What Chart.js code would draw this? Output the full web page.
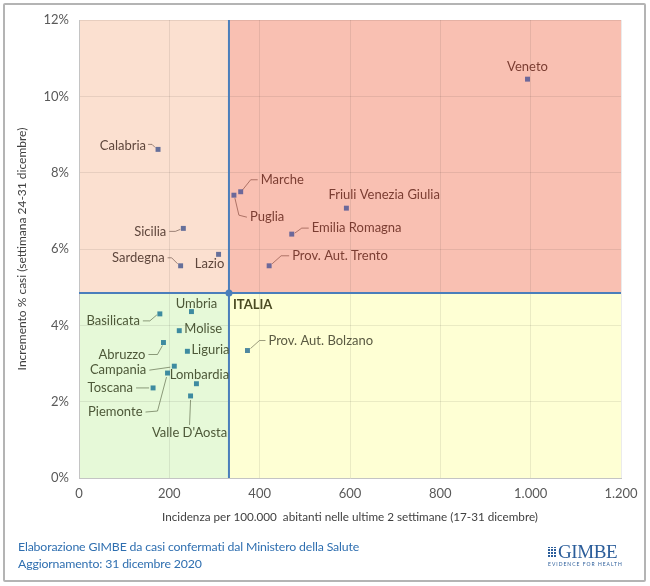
<!DOCTYPE html>
<html>
<head>
<meta charset="utf-8">
<script src="https://cdn.jsdelivr.net/npm/chart.js@4.4.0/dist/chart.umd.min.js"></script>
<style>
  body { margin: 0; background: #fff; }
  #wrap { position: relative; width: 650px; height: 586px; font-family: Lato, sans-serif; }
  #frame { position: absolute; left: 3px; top: 3px; width: 639px; height: 575px; border: 2px solid #b4b4b4; border-radius: 2px; }
  #chart { position: absolute; left: 0; top: 0; }
  .note { position: absolute; left: 18px; color: #2f6fb0; font-size: 12.3px; letter-spacing: -0.15px; }
  #logo { position: absolute; left: 548px; top: 543px; width: 74px; }
  #logo .icon { position: absolute; left: 0; top: 4px; width: 9px; height: 10px;
    background: linear-gradient(0deg, transparent 0 1px, #fff 1px 2px, transparent 2px) 0 0 / 3px 3px,
                linear-gradient(90deg, transparent 0 2px, #fff 2px 3px) 0 0 / 3px 3px, #2b5d9a; }
  #logo .name { position: absolute; left: 10px; top: -2px; font-family: "Liberation Serif", serif; font-size: 19px; color: #2b5d9a; letter-spacing: -0.4px; }
  #logo .tag { position: absolute; left: 0; top: 18px; font-size: 5px; letter-spacing: 1px; color: #2b5d9a; white-space: nowrap; }
</style>
</head>
<body>
<div id="wrap">
  <canvas id="chart" width="650" height="586"></canvas>
  <div id="frame"></div>
  <div class="note" style="top:539px">Elaborazione GIMBE da casi confermati dal Ministero della Salute</div>
  <div class="note" style="top:556px">Aggiornamento: 31 dicembre 2020</div>
  <div id="logo"><div class="icon"></div><div class="name">GIMBE</div><div class="tag">EVIDENCE FOR HEALTH</div></div>
</div>
<script>
// dati regionali
const regioni = ["Veneto", "Calabria", "Marche", "Puglia", "Friuli Venezia Giulia", "Sicilia", "Emilia Romagna",
    "Lazio", "Sardegna", "Prov. Aut. Trento", "Umbria", "Basilicata", "Molise", "Abruzzo", "Prov. Aut. Bolzano",
    "Liguria", "Campania", "Piemonte", "Lombardia", "Toscana", "Valle D'Aosta"];
const incidenza = [993, 175, 358, 343, 592, 231, 471, 309, 225, 421, 249, 179, 222, 187, 373, 240, 211, 196, 260, 164, 247];
const incremento = [10.45, 8.61, 7.50, 7.41, 7.07, 6.54, 6.39, 5.86, 5.56, 5.56, 4.36, 4.30, 3.86, 3.55, 3.34, 3.32, 2.93, 2.75, 2.47, 2.36, 2.15];
const italiaIncidenza = 332;
const italiaIncremento = 4.85;
const xTicks = [0, 200, 400, 600, 800, 1000, 1200];
const yTicks = [0, 2, 4, 6, 8, 10, 12];

// posizione etichette (pixel rispetto al punto)
const labelPos = {
    "Veneto": { dx: 0, dy: -12, align: "center" },
    "Calabria": { dx: -12, dy: -4, align: "right", leader: [[-3, -2], [-6, -5], [-10, -5]] },
    "Marche": { dx: 20, dy: -12, align: "left", leader: [[2, -2], [10, -12], [17, -12]] },
    "Puglia": { dx: 16, dy: 22, align: "left", leader: [[1, 3], [5, 20], [13, 22]] },
    "Friuli Venezia Giulia": { dx: -18, dy: -13, align: "left" },
    "Sicilia": { dx: -17, dy: 3, align: "right", leader: [[-3, 1], [-8, 3], [-14, 3]] },
    "Emilia Romagna": { dx: 20, dy: -6, align: "left", leader: [[3, -1], [10, -6], [17, -6]] },
    "Lazio": { dx: -9, dy: 9, align: "center" },
    "Sardegna": { dx: -16, dy: -8, align: "right", leader: [[-3, -2], [-9, -8], [-13, -8]] },
    "Prov. Aut. Trento": { dx: 23, dy: -10, align: "left", leader: [[3, -2], [12, -10], [20, -10]] },
    "Umbria": { dx: 5, dy: -8, align: "center" },
    "Basilicata": { dx: -20, dy: 7, align: "right", leader: [[-3, 1], [-10, 7], [-17, 7]] },
    "Molise": { dx: 5, dy: -2, align: "left" },
    "Abruzzo": { dx: -18, dy: 12, align: "right", leader: [[-1, 3], [-6, 12], [-15, 12]] },
    "Prov. Aut. Bolzano": { dx: 21, dy: -10, align: "left", leader: [[3, -2], [12, -10], [18, -10]] },
    "Liguria": { dx: 4, dy: -1, align: "left" },
    "Campania": { dx: -28, dy: 4, align: "right", leader: [[-4, 1], [-25, 4]] },
    "Piemonte": { dx: -25, dy: 39, align: "right", leader: [[-1, 4], [-10, 38], [-22, 39]] },
    "Lombardia": { dx: 3, dy: -9, align: "center" },
    "Toscana": { dx: -20, dy: 0, align: "right", leader: [[-4, 0], [-17, 0]] },
    "Valle D'Aosta": { dx: -1, dy: 37, align: "center", leader: [[0, 4], [-1, 29]] }
};

// colori per quadrante
function quadrante(x, y) {
    if (y >= italiaIncremento) return x >= italiaIncidenza ? "rosso" : "pesca";
    return x >= italiaIncidenza ? "giallo" : "verde";
}
const fondo = { pesca: "#fbe0d0", rosso: "#f9c0b2", verde: "#e6f9d8", giallo: "#feffd4" };
const colPunto = { pesca: "#66709a", rosso: "#6c689a", verde: "#3e8ba0", giallo: "#4f88a0" };
const colTesto = { pesca: "#5e463c", rosso: "#7b3d32", verde: "#4d5838", giallo: "#5a5a42" };

function fmtMigliaia(v) {
    return String(v).replace(/\B(?=(\d{3})+(?!\d))/g, ".");
}

const quadrantiPlugin = {
    id: "quadranti",
    beforeDraw(chart) {
        const { ctx, chartArea: a, scales: { x, y } } = chart;
        const cx = x.getPixelForValue(italiaIncidenza);
        const cy = y.getPixelForValue(italiaIncremento);
        ctx.save();
        ctx.fillStyle = fondo.pesca; ctx.fillRect(a.left, a.top, cx - a.left, cy - a.top);
        ctx.fillStyle = fondo.rosso; ctx.fillRect(cx, a.top, a.right - cx, cy - a.top);
        ctx.fillStyle = fondo.verde; ctx.fillRect(a.left, cy, cx - a.left, a.bottom - cy);
        ctx.fillStyle = fondo.giallo; ctx.fillRect(cx, cy, a.right - cx, a.bottom - cy);
        ctx.restore();
    },
    beforeDatasetsDraw(chart) {
        const { ctx, chartArea: a, scales: { x, y } } = chart;
        const cx = x.getPixelForValue(italiaIncidenza);
        const cy = y.getPixelForValue(italiaIncremento);
        ctx.save();
        ctx.strokeStyle = "#4a7ebb";
        ctx.lineWidth = 2;
        ctx.beginPath();
        ctx.moveTo(cx, a.top); ctx.lineTo(cx, a.bottom);
        ctx.moveTo(a.left, cy); ctx.lineTo(a.right, cy);
        ctx.stroke();
        ctx.restore();
    },
    afterDatasetsDraw(chart) {
        const { ctx, scales: { x, y } } = chart;
        ctx.save();
        ctx.font = "13px Lato";
        ctx.textBaseline = "middle";
        regioni.forEach((nome, i) => {
            const px = x.getPixelForValue(incidenza[i]);
            const py = y.getPixelForValue(incremento[i]);
            const p = labelPos[nome];
            const q = quadrante(incidenza[i], incremento[i]);
            if (p.leader) {
                ctx.strokeStyle = colTesto[q];
                ctx.globalAlpha = 0.6;
                ctx.lineWidth = 1;
                ctx.beginPath();
                p.leader.forEach((pt, k) => k === 0 ? ctx.moveTo(px + pt[0], py + pt[1]) : ctx.lineTo(px + pt[0], py + pt[1]));
                ctx.stroke();
                ctx.globalAlpha = 1;
            }
            ctx.fillStyle = colTesto[q];
            ctx.textAlign = p.align;
            ctx.fillText(nome, px + p.dx, py + p.dy);
        });
        // Italia
        const ix = x.getPixelForValue(italiaIncidenza);
        const iy = y.getPixelForValue(italiaIncremento);
        ctx.font = "bold 13px Lato";
        ctx.fillStyle = "#4a4a22";
        ctx.textAlign = "left";
        ctx.fillText("ITALIA", ix + 4, iy + 12);
        ctx.restore();
    }
};

new Chart(document.getElementById("chart"), {
    type: "scatter",
    data: {
        datasets: [{
            data: regioni.map((r, i) => ({ x: incidenza[i], y: incremento[i] })),
            pointStyle: "rect",
            pointRadius: 3.5,
            pointBorderWidth: 0,
            pointBackgroundColor: c => colPunto[quadrante(c.raw.x, c.raw.y)]
        }, {
            data: [{ x: italiaIncidenza, y: italiaIncremento }],
            pointStyle: "circle",
            pointRadius: 3.5,
            pointBorderWidth: 0,
            pointBackgroundColor: "#4a7ebb"
        }]
    },
    options: {
        responsive: false,
        animation: false,
        layout: { padding: { left: 14, right: 29, top: 20, bottom: 58 } },
        plugins: { legend: { display: false }, tooltip: { enabled: false } },
        scales: {
            x: {
                type: "linear",
                min: 0, max: 1200,
                afterFit: s => { s.height = 50; },
                afterBuildTicks: s => { s.ticks = xTicks.map(v => ({ value: v })); },
                grid: { color: "rgba(0,0,0,0.08)", drawTicks: false },
                border: { color: "#c4c4c4" },
                ticks: { padding: 8, color: "#595959", font: { family: "Lato", size: 13 }, callback: v => fmtMigliaia(v) },
                title: {
                    display: true,
                    text: "Incidenza per 100.000  abitanti nelle ultime 2 settimane (17-31 dicembre)",
                    color: "#404040",
                    font: { family: "Lato", size: 11.7 },
                    padding: { top: 0, bottom: 4 }
                }
            },
            y: {
                type: "linear",
                min: 0, max: 12,
                afterFit: s => { s.width = 65; },
                afterBuildTicks: s => { s.ticks = yTicks.map(v => ({ value: v })); },
                grid: { color: "rgba(0,0,0,0.08)", drawTicks: false },
                border: { color: "#c4c4c4" },
                ticks: { padding: 10, color: "#595959", font: { family: "Lato", size: 13 }, callback: v => v + "%" },
                title: {
                    display: true,
                    text: "Incremento % casi (settimana 24-31 dicembre)",
                    color: "#404040",
                    font: { family: "Lato", size: 12 },
                    padding: { top: 1, bottom: 0 }
                }
            }
        }
    },
    plugins: [quadrantiPlugin]
});
</script>
</body>
</html>
